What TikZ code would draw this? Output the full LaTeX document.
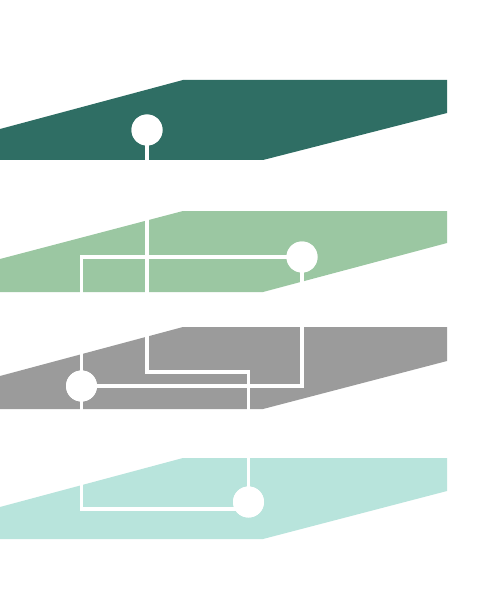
\documentclass[tikz,border=0pt]{standalone}
\definecolor{layerA}{HTML}{2F6E64}
\definecolor{layerB}{HTML}{9BC7A2}
\definecolor{layerC}{HTML}{9B9B9B}
\definecolor{layerD}{HTML}{B8E4DC}
\begin{document}
\begin{tikzpicture}[x=1bp,y=-1bp,
  wire/.style={draw=white,line width=3.3bp},
  via/.style={circle,fill=white,inner sep=0pt,minimum size=31bp}]
\useasboundingbox (0,0) rectangle (477,600);
\fill[white] (0,0) rectangle (477,600);
% layers
\fill[layerA] (0,129) -- (183,80) -- (447,80) -- (447,113) -- (263,160) -- (0,160) -- cycle;
\fill[layerB] (0,259) -- (183,211) -- (447,211) -- (447,243) -- (263,292) -- (0,292) -- cycle;
\fill[layerC] (0,376) -- (183,327) -- (447,327) -- (447,361) -- (263,409) -- (0,409) -- cycle;
\fill[layerD] (0,507) -- (183,458) -- (447,458) -- (447,491) -- (263,539) -- (0,539) -- cycle;
% vias
\node[via] (c1) at (147,130) {};
\node[via] (c2) at (302,257) {};
\node[via] (c3) at (81.5,386) {};
\node[via] (c4) at (248.5,502) {};
\coordinate (k1) at (81.5,257);
\coordinate (k2) at (81.5,509);
\coordinate (k3) at (248.5,509);
% wires
\draw[wire] (c1.center) |- (248.5,372) -- (c4.center);
\draw[wire] (c2.center) |- (c3.center);
\draw[wire] (c2.center) -- (k1) -- (k2) -- (k3);
% redraw vias on top
\node[via] at (c1) {};
\node[via] at (c2) {};
\node[via] at (c3) {};
\node[via] at (c4) {};
\end{tikzpicture}
\end{document}
